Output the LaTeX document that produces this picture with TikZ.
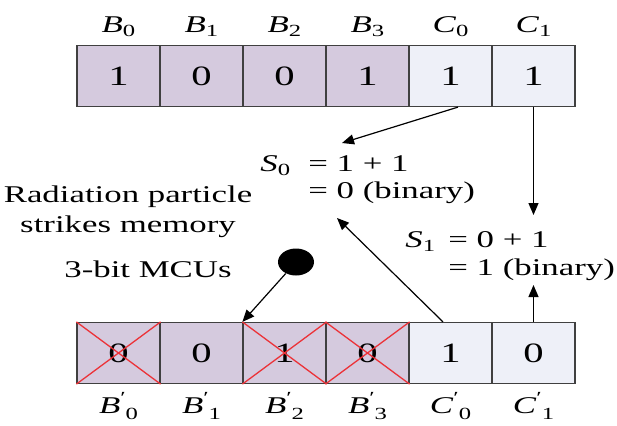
\documentclass[tikz,border=0pt]{standalone}
\usepackage{fontspec}
\setmainfont{Liberation Serif}[FakeStretch=1.45]
\usepackage{tikz}
\usetikzlibrary{arrows.meta, positioning, shapes.geometric}
\definecolor{dataPurple}{HTML}{D5CADE}
\definecolor{checkBlue}{HTML}{EEF0F8}
\definecolor{crossRed}{HTML}{EC3238}
\newcommand{\bitname}[2]{\textit{#1}\raisebox{-0.45ex}{\fontsize{8.5}{9}\selectfont #2}}
\newcommand{\bitnamep}[2]{\textit{#1}\raisebox{0.9ex}{\fontsize{8.5}{9}\selectfont\symbol{"2032}}\raisebox{-0.6ex}{\fontsize{8.5}{9}\selectfont #2}}

\begin{document}
\begin{tikzpicture}[
    x=0.5pt, y=-0.5pt,
    every node/.style={font=\fontsize{12}{14}\selectfont},
    cell/.style={draw=black!75, line width=0.6pt, minimum width=41.5pt,
      minimum height=30.5pt, inner sep=0pt, font=\fontsize{14}{16}\selectfont},
    dcell/.style={cell, fill=dataPurple},
    ccell/.style={cell, fill=checkBlue},
    cross/.style={crossRed, line width=0.65pt},
    eqn/.style={anchor=base west, inner sep=0pt},
    link/.style={->, line width=0.6pt},
    >={Triangle[length=6pt, width=5pt]}
  ]
  \useasboundingbox (0,0) rectangle (617,425);

  % ── Stored word (top) ───────────────────────────────────────────────────
  \foreach \v [count=\i from 0] in {1,0,0,1} {
    \node[dcell] (b\i) at (118.5+83*\i, 76) {\v};
    \node[anchor=base] (lb\i) at (118.5+83*\i, 32) {\bitname{B}{\i}};
  }
  \foreach \v [count=\i from 0] in {1,1} {
    \node[ccell] (c\i) at (450.5+83*\i, 76) {\v};
    \node[anchor=base] (lc\i) at (450.5+83*\i, 32) {\bitname{C}{\i}};
  }

  % ── Word after the strike (bottom) ──────────────────────────────────────
  \foreach \v [count=\i from 0] in {0,0,1,0} {
    \node[dcell] (bp\i) at (118.5+83*\i, 353) {\v};
    \node[anchor=base] (lbp\i) at (118.5+83*\i, 413) {\bitnamep{B}{\i}};
  }
  \foreach \v [count=\i from 0] in {1,0} {
    \node[ccell] (cp\i) at (450.5+83*\i, 353) {\v};
    \node[anchor=base] (lcp\i) at (450.5+83*\i, 413) {\bitnamep{C}{\i}};
  }
  % upset bits
  \foreach \k in {0,2,3}
    \draw[cross] (bp\k.north west) -- (bp\k.south east)
                 (bp\k.south west) -- (bp\k.north east);

  % ── Checksums ───────────────────────────────────────────────────────────
  \node[eqn] (s0)    at (260,171) {\bitname{S}{0}};
  \node[eqn] (s0sum) at (308,171) {= 1 + 1};
  \node[eqn] (s0res) at (308,198) {= 0 (binary)};
  \node[eqn] (s1)    at (405,247) {\bitname{S}{1}};
  \node[eqn] (s1sum) at (448,247) {= 0 + 1};
  \node[eqn] (s1res) at (448,275) {= 1 (binary)};

  % ── Particle ────────────────────────────────────────────────────────────
  \node[anchor=base] (rad1) at (128,202) {Radiation particle};
  \node[anchor=base] (rad2) at (128,232) {strikes memory};
  \node[anchor=base] (mcu)  at (148,277) {3-bit MCUs};
  \node[ellipse, fill=black, minimum width=18pt, minimum height=13.5pt,
        inner sep=0pt] (dot) at (296,262) {};

  \coordinate (s0in)   at (342,143);
  \coordinate (s1in)   at (533.5,215);
  \coordinate (s0back) at (337,218);
  \coordinate (s1back) at (533.5,285);

  \draw[link] ([xshift=3.75pt]c0.south) -- (s0in);
  \draw[link] (c1.south) -- (s1in);
  \draw[link] ([xshift=-3.75pt]cp0.north) -- (s0back);
  \draw[link] (cp1.north) -- (s1back);
  \draw[link] (dot) -- (bp2.north west);

\end{tikzpicture}
\end{document}
